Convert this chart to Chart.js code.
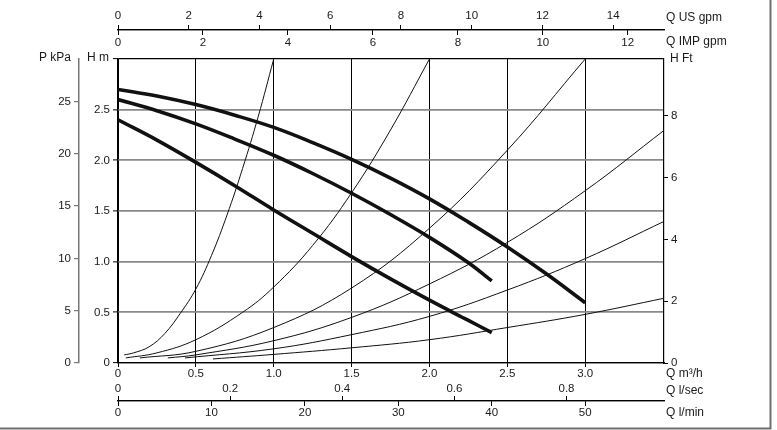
<!DOCTYPE html>
<html><head><meta charset="utf-8">
<script src="https://cdn.jsdelivr.net/npm/chart.js@4.4.1/dist/chart.umd.min.js"></script>
<style>html,body{margin:0;padding:0;background:#fff;overflow:hidden}canvas{display:block}</style>
</head><body>
<canvas id="c" width="777" height="430"></canvas>
<script>
// ---------------- data ----------------
// tick values / labels
const qTicks = [0, 0.5, 1, 1.5, 2, 2.5, 3];
const qTickLabels = ['0', '0.5', '1.0', '1.5', '2.0', '2.5', '3.0'];
const hTicks = [0, 0.5, 1, 1.5, 2, 2.5, 3];
const hTickLabels = ['0', '0.5', '1.0', '1.5', '2.0', '2.5', ''];
const kpaTicks = [0, 5, 10, 15, 20, 25];
const ftTicks = [0, 2, 4, 6, 8];
const usGpmTicks = [0, 2, 4, 6, 8, 10, 12, 14];
const impGpmTicks = [0, 2, 4, 6, 8, 10, 12];
const lsecTicks = [0, 0.2, 0.4, 0.6, 0.8];
const lsecTickLabels = ['0', '0.2', '0.4', '0.6', '0.8'];
const lminTicks = [0, 10, 20, 30, 40, 50];

// pump curves: Q (m3/h) vs H (m)
const pumpTopQ = [0, 0.25, 0.5, 0.75, 1.0, 1.25, 1.5, 1.75, 2.0, 2.25, 2.5, 2.75, 3.0];
const pumpTopH = [2.70, 2.635, 2.55, 2.445, 2.325, 2.175, 2.01, 1.825, 1.62, 1.39, 1.145, 0.88, 0.595];
const pumpMidQ = [0, 0.25, 0.5, 0.75, 1.0, 1.25, 1.5, 1.75, 2.0, 2.25, 2.4];
const pumpMidH = [2.60, 2.49, 2.36, 2.21, 2.05, 1.87, 1.675, 1.465, 1.24, 0.99, 0.81];
const pumpLowQ = [0, 0.25, 0.5, 0.75, 1.0, 1.25, 1.5, 1.75, 2.0, 2.25, 2.4];
const pumpLowH = [2.40, 2.20, 1.98, 1.75, 1.51, 1.28, 1.05, 0.83, 0.62, 0.42, 0.30];

// system curves
const sys1Q = [0.04, 0.1, 0.2, 0.3, 0.4, 0.5, 0.6, 0.7, 0.8, 0.9, 1.0];
const sys1H = [0.08, 0.10, 0.16, 0.29, 0.49, 0.73, 1.06, 1.46, 1.92, 2.43, 3.0];
const sys2Q = [0.05, 0.25, 0.5, 0.8, 1.0, 1.25, 1.5, 1.75, 2.0];
const sys2H = [0.05, 0.10, 0.23, 0.50, 0.75, 1.16, 1.68, 2.30, 3.0];
const sys3Q = [0.14, 0.5, 1.0, 1.5, 2.0, 2.5, 3.0];
const sys3H = [0.05, 0.115, 0.35, 0.74, 1.33, 2.1, 3.0];
const sys4Q = [0.32, 0.5, 1.0, 1.5, 2.0, 2.5, 3.0, 3.51];
const sys4H = [0.05, 0.08, 0.22, 0.45, 0.78, 1.19, 1.70, 2.30];
const sys5Q = [0.43, 1.0, 1.5, 2.0, 2.5, 3.0, 3.51];
const sys5H = [0.05, 0.14, 0.28, 0.46, 0.72, 1.03, 1.40];
const sys6Q = [0.61, 1.0, 1.5, 2.0, 2.5, 3.0, 3.51];
const sys6H = [0.04, 0.085, 0.15, 0.23, 0.35, 0.48, 0.64];

// axis ranges (m3/h and m at chart edges, plus unit conversions)
const Q_MAX = 3.506;
const H_MAX = 3.0;
const KPA_MAX = 29.06;
const FT_MAX = H_MAX * 3.2808;
const US_MAX = Q_MAX * 4.4029;
const IMP_MAX = Q_MAX * 3.6662;
const LSEC_MAX = Q_MAX / 3.6;
const LMIN_MAX = Q_MAX * 1000 / 60;

// ---------------- layout / style ----------------
const TOP_AXIS_Y = 30;
const BOTTOM_AXIS_Y = 401;
const ink = '#1a1a1a';
const FAMILY = '"Liberation Sans", Arial, Helvetica, sans-serif';
const tickFont = { family: FAMILY, size: 11.5 };
Chart.defaults.font.family = FAMILY;
Chart.defaults.color = ink;

const xy = (qs, hs) => qs.map((q, i) => ({ x: q, y: hs[i] }));
const fixed = (vals) => (s) => { s.ticks = vals.map(v => ({ value: v })); };
const setH = (h) => (s) => { s.height = h; };
const setW = (w) => (s) => { s.width = w; };

function thin(qs, hs) {
  return { data: xy(qs, hs), borderColor: '#111', borderWidth: 1, pointRadius: 0,
           tension: 0.4, fill: false };
}
function thick(qs, hs) {
  return { data: xy(qs, hs), borderColor: '#111', borderWidth: 3.6, pointRadius: 0,
           tension: 0.4, fill: false, borderCapStyle: 'butt' };
}

function auxX(pos, max, vals, labels, pad) {
  return {
    type: 'linear', position: pos, min: 0, max: max,
    afterBuildTicks: fixed(vals), afterFit: setH(0),
    ticks: { callback: (v, i) => labels ? labels[i] : String(vals[i]), color: ink, font: tickFont,
             padding: pad, autoSkip: false, maxRotation: 0 },
    grid: { drawOnChartArea: false, color: '#000', tickColor: '#000', tickLength: 5, lineWidth: 1 },
    border: { color: '#000', width: 1.2 }
  };
}

const placer = {
  id: 'placer',
  afterLayout(chart) {
    const s = chart.scales, ca = chart.chartArea;
    const put = (sc, top, bottom) => { sc.top = top; sc.bottom = bottom; sc.height = bottom - top; };
    put(s.us, 0, TOP_AXIS_Y);
    put(s.imp, TOP_AXIS_Y, ca.top);
    put(s.lsec, ca.bottom + 17, BOTTOM_AXIS_Y);
    put(s.lmin, BOTTOM_AXIS_Y, chart.height - 5);
  },
  afterDraw(chart) {
    const ctx = chart.ctx, s = chart.scales, ca = chart.chartArea;
    ctx.save();
    ctx.fillStyle = ink;
    ctx.font = '12px ' + FAMILY;
    ctx.textBaseline = 'middle';
    ctx.textAlign = 'left';
    const tx = ca.right + 2;
    ctx.fillText('Q US gpm', tx, TOP_AXIS_Y - 12);
    ctx.fillText('Q IMP gpm', tx, TOP_AXIS_Y + 12);
    ctx.fillText('H Ft', ca.right + 6, ca.top);
    ctx.fillText('Q m\u00B3/h', tx, ca.bottom + 11);
    ctx.fillText('Q l/sec', tx, BOTTOM_AXIS_Y - 10.5);
    ctx.fillText('Q l/min', tx, BOTTOM_AXIS_Y + 11.5);
    ctx.textAlign = 'right';
    ctx.fillText('P kPa', s.kpa.right - 8, ca.top - 1);
    ctx.fillText('H m', ca.left - 9, ca.top - 1);
    // outer frame (right and bottom edges)
    ctx.strokeStyle = '#6e6e6e';
    ctx.lineWidth = 2;
    ctx.beginPath();
    ctx.moveTo(0, 428.5); ctx.lineTo(770.5, 428.5); ctx.lineTo(770.5, 0);
    ctx.stroke();
    ctx.restore();
  }
};

new Chart(document.getElementById('c'), {
  type: 'line',
  data: {
    datasets: [
      thin(sys1Q, sys1H), thin(sys2Q, sys2H), thin(sys3Q, sys3H),
      thin(sys4Q, sys4H), thin(sys5Q, sys5H), thin(sys6Q, sys6H),
      thick(pumpTopQ, pumpTopH), thick(pumpMidQ, pumpMidH), thick(pumpLowQ, pumpLowH)
    ]
  },
  options: {
    responsive: false, devicePixelRatio: 1, animation: false, events: [],
    layout: { padding: { left: 39, top: 59, right: 83, bottom: 47 } },
    plugins: { legend: { display: false }, tooltip: { enabled: false } },
    scales: {
      x: {
        type: 'linear', position: 'bottom', min: 0, max: Q_MAX,
        afterBuildTicks: fixed(qTicks), afterFit: setH(20),
        ticks: { callback: (v, i) => qTickLabels[i], color: ink, font: tickFont, padding: 0, autoSkip: false, maxRotation: 0 },
        grid: { color: '#000', lineWidth: 1, tickLength: 4, tickColor: '#000' },
        border: { color: '#000', width: 1.2 }
      },
      y: {
        type: 'linear', position: 'left', weight: 1, min: 0, max: H_MAX,
        afterBuildTicks: fixed(hTicks), afterFit: setW(39),
        ticks: { callback: (v, i) => hTickLabels[i], color: ink, font: tickFont, padding: 3 },
        grid: {
          color: (c) => (c.tick && (c.tick.value === 3 || c.tick.value === 0)) ? '#000' : '#8a8a8a',
          lineWidth: (c) => (c.tick && (c.tick.value === 3 || c.tick.value === 0)) ? 1.2 : 1.8,
          tickLength: 5, tickColor: '#000', tickWidth: 1
        },
        border: { color: '#000', width: 1.2 }
      },
      kpa: {
        type: 'linear', position: 'left', weight: 2, min: 0, max: KPA_MAX,
        afterBuildTicks: fixed(kpaTicks), afterFit: setW(40),
        ticks: { color: ink, font: tickFont, padding: 3 },
        grid: { drawOnChartArea: false, color: '#777', tickColor: '#777', tickLength: 5, lineWidth: 1.2 },
        border: { color: '#777', width: 1.5 }
      },
      ft: {
        type: 'linear', position: 'right', min: 0, max: FT_MAX,
        afterBuildTicks: fixed(ftTicks), afterFit: setW(30),
        ticks: { color: ink, font: tickFont, padding: 3 },
        grid: { drawOnChartArea: false, color: '#000', tickColor: '#000', tickLength: 4 },
        border: { color: '#000', width: 1.2 }
      },
      us: auxX('top', US_MAX, usGpmTicks, null, 2),
      imp: auxX('bottom', IMP_MAX, impGpmTicks, null, 1),
      lsec: auxX('top', LSEC_MAX, lsecTicks, lsecTickLabels, 0),
      lmin: auxX('bottom', LMIN_MAX, lminTicks, null, 0)
    }
  },
  plugins: [placer]
});
</script>
</body></html>
